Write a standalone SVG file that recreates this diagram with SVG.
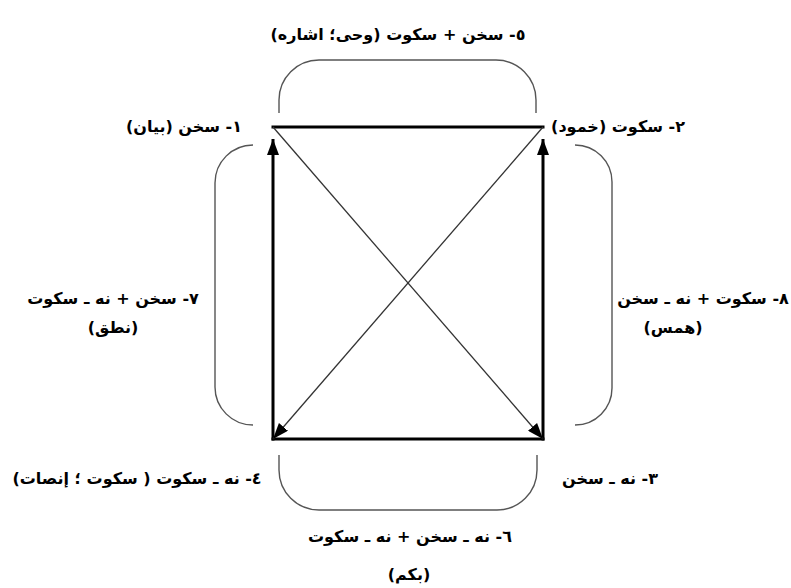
<svg xmlns="http://www.w3.org/2000/svg" width="791" height="588" viewBox="0 0 791 588">
<style>
  .lbl { font-family: "DejaVu Sans", sans-serif; font-weight: bold; font-size: 16px; fill: #000; direction: rtl; text-anchor: middle; }
  .edge { stroke: #000; stroke-width: 3; fill: none; }
  .diag { stroke: #333; stroke-width: 1.3; fill: none; }
  .brace { stroke: #555; stroke-width: 1.4; fill: none; }
</style>
<defs>
  <marker id="arrowThick" markerUnits="userSpaceOnUse" markerWidth="16" markerHeight="12" refX="16" refY="6" orient="auto">
    <path d="M0,0 L16,6 L0,12 z" fill="#000"/>
  </marker>
  <marker id="arrowThin" markerUnits="userSpaceOnUse" markerWidth="16" markerHeight="12" refX="16" refY="6" orient="auto">
    <path d="M0,0 L16,6 L0,12 z" fill="#000"/>
  </marker>
</defs>
<rect width="791" height="588" fill="#fff"/>

<g id="connectors">
  <line class="edge" x1="271.5" y1="127" x2="544.5" y2="127"/>
  <line class="edge" x1="271.5" y1="439" x2="544.5" y2="439"/>
  <line class="edge" x1="273" y1="440.5" x2="273" y2="139" marker-end="url(#arrowThick)"/>
  <line class="edge" x1="543" y1="440.5" x2="543" y2="139" marker-end="url(#arrowThick)"/>
  <line class="diag" x1="543" y1="127" x2="273" y2="439" marker-end="url(#arrowThin)"/>
  <line class="diag" x1="273" y1="127" x2="543" y2="439" marker-end="url(#arrowThin)"/>
</g>

<g id="brackets">
  <path class="brace" d="M279,113 L279,100 A40,40 0 0 1 319,60 L496,60 A40,40 0 0 1 536,100 L536,113"/>
  <path class="brace" d="M253,145 A38,38 0 0 0 215,183 L215,387 A38,38 0 0 0 253,425"/>
  <path class="brace" d="M575,145 A37,37 0 0 1 612,182 L612,388 A37,37 0 0 1 575,425"/>
  <path class="brace" d="M279,455 L279,470 A40,40 0 0 0 319,510 L497,510 A40,40 0 0 0 537,470 L537,455"/>
</g>

<g id="node1"><text class="lbl" x="184" y="132">١- سخن (بيان)</text></g>
<g id="node2"><text class="lbl" x="618" y="132">٢- سكوت (خمود)</text></g>
<g id="node3"><text class="lbl" x="610" y="484">٣- نه ـ سخن</text></g>
<g id="node4"><text class="lbl" x="137" y="484">٤- نه ـ سكوت ( سكوت ؛ إنصات)</text></g>
<g id="node5"><text class="lbl" x="398" y="40">٥- سخن + سكوت (وحی؛ اشاره)</text></g>
<g id="node6">
  <text class="lbl" x="410" y="542">٦- نه ـ سخن + نه ـ سكوت</text>
  <text class="lbl" x="409" y="580">(بكم)</text>
</g>
<g id="node7">
  <text class="lbl" x="113" y="304">٧- سخن + نه ـ سكوت</text>
  <text class="lbl" x="113" y="333">(نطق)</text>
</g>
<g id="node8">
  <text class="lbl" x="703" y="304">٨- سكوت + نه ـ سخن</text>
  <text class="lbl" x="673" y="333">(همس)</text>
</g>
</svg>
